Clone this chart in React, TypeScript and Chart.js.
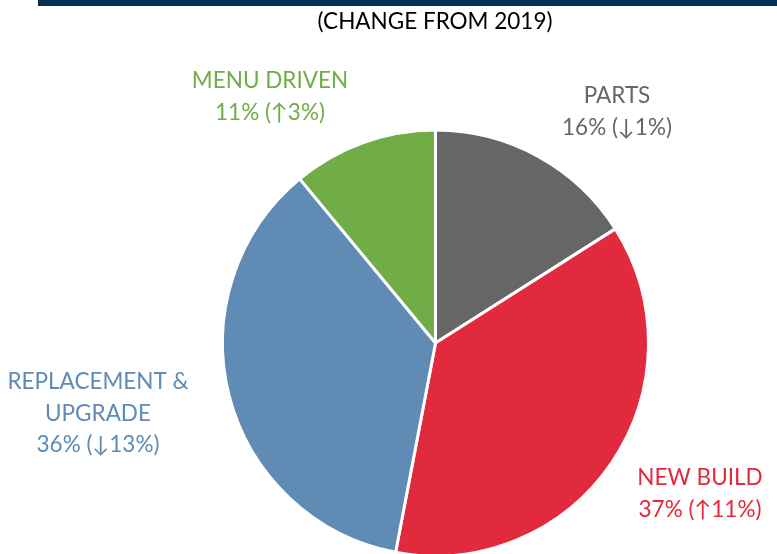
import React, { useEffect, useRef } from "react";
import { Chart, registerables } from "chart.js";

Chart.register(...registerables);

const categories = ["PARTS", "NEW BUILD", "REPLACEMENT & UPGRADE", "MENU DRIVEN"];
const shares = [16, 37, 36, 11];
const changes = ["\u21931%", "\u219111%", "\u219313%", "\u21913%"];
const colors = ["#666666", "#E22A3F", "#5F8BB5", "#70AD47"];
const labelLines = [["PARTS"], ["NEW BUILD"], ["REPLACEMENT &", "UPGRADE"], ["MENU DRIVEN"]];
const titleText = "(CHANGE FROM 2019)";

const FONT = "22.5px Lato, 'Liberation Sans', sans-serif";

const labelPlugin = {
  id: "labelPlugin",
  beforeDraw(chart: any) {
    const ctx = chart.ctx;
    ctx.save();
    ctx.fillStyle = "#003152";
    ctx.fillRect(38, 0, chart.width - 38, 6);
    ctx.font = FONT;
    ctx.fillStyle = "#000000";
    ctx.textAlign = "center";
    ctx.textBaseline = "middle";
    ctx.fillText(titleText, 435, 22);
    ctx.restore();
  },
  afterDraw(chart: any) {
    const ctx = chart.ctx;
    // label anchors (center of first line)
    const anchors = [
      [617, 96],
      [700, 478],
      [98, 382],
      [270, 81],
    ];
    ctx.save();
    ctx.font = FONT;
    ctx.textAlign = "center";
    ctx.textBaseline = "middle";
    const lh = 31.5;
    shares.forEach((v, i) => {
      const lines = [...labelLines[i], `${v}% (${changes[i]})`];
      ctx.fillStyle = colors[i];
      lines.forEach((t, j) => {
        ctx.fillText(t, anchors[i][0], anchors[i][1] + j * lh);
      });
    });
    ctx.restore();
  },
};

export default function App() {
  const ref = useRef<HTMLCanvasElement>(null);
  useEffect(() => {
    document.body.style.margin = "0";
    const chart = new Chart(ref.current!, {
      type: "pie",
      data: {
        labels: categories,
        datasets: [
          {
            data: shares,
            backgroundColor: colors,
            borderColor: "#ffffff",
            borderWidth: 3,
            hoverOffset: 0,
          },
        ],
      },
      options: {
        animation: false,
        responsive: false,
        events: [],
        layout: { padding: { left: 221, right: 127, top: 128.5, bottom: 42.5 } },
        plugins: {
          legend: { display: false },
          tooltip: { enabled: false },
          title: { display: false },
        },
      },
      plugins: [labelPlugin],
    });
    return () => chart.destroy();
  }, []);
  return (
    <div style={{ width: 777, height: 554, overflow: "hidden", position: "relative" }}>
      <canvas ref={ref} width={777} height={600} style={{ display: "block" }} />
    </div>
  );
}
